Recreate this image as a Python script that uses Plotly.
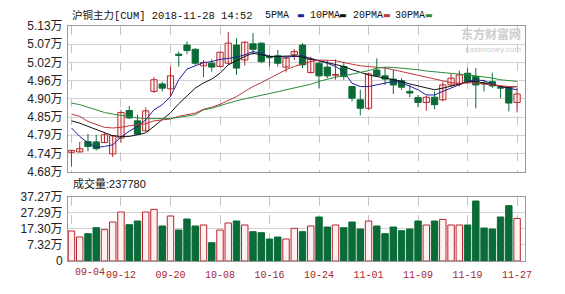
import plotly.graph_objects as go

# ---------------- data ----------------
dates = ["09-04", "09-05", "09-06", "09-07", "09-10", "09-11", "09-12", "09-13", "09-14",
         "09-17", "09-18", "09-19", "09-20", "09-21", "09-25", "09-26", "09-27", "09-28",
         "10-08", "10-09", "10-10", "10-11", "10-12", "10-15", "10-16", "10-17", "10-18",
         "10-19", "10-22", "10-23", "10-24", "10-25", "10-26", "10-29", "10-30", "10-31",
         "11-01", "11-02", "11-05", "11-06", "11-07", "11-08", "11-09", "11-12", "11-13",
         "11-14", "11-15", "11-16", "11-19", "11-20", "11-21", "11-22", "11-23", "11-26",
         "11-27"]

open_ = [47400, 47410, 47730, 47720, 47700, 47350, 47840, 48690, 48370, 48060,
         49280, 49510, 49360, 50430, 50710, 50580, 50070, 50150, 50050, 50150,
         50710, 50250, 50750, 50770, 50360, 50380, 50030, 50410, 50710, 49860,
         50150, 50030, 49780, 50050, 49430, 49020, 48760, 49940, 49760, 49660,
         49610, 49280, 49090, 48940, 49100, 49020, 49480, 49510, 49840, 49740,
         49540, 49580, 49400, 49380, 48940]
high = [47470, 47720, 47970, 47940, 47990, 47940, 48710, 48830, 48560, 48790,
        49720, 49580, 50050, 50510, 50820, 50610, 50250, 50270, 50500, 51120,
        50920, 50820, 51080, 50790, 50430, 50560, 50340, 50590, 50770, 50350,
        50200, 50250, 50270, 50200, 49440, 49330, 49860, 50300, 50020, 49940,
        49690, 49480, 49170, 49140, 49280, 49580, 49820, 49920, 50000, 50000,
        49640, 49860, 49430, 49430, 49380]
low = [46960, 47400, 47430, 47460, 47690, 47250, 47700, 48430, 47940, 48040,
       49230, 49280, 49120, 50050, 50430, 50100, 49720, 49890, 50030, 50100,
       49790, 50080, 50410, 50150, 50050, 50050, 49870, 50250, 50000, 49840,
       49380, 49690, 49640, 49640, 48970, 48540, 48710, 49740, 49480, 49200,
       49330, 49100, 48790, 48690, 48730, 48970, 49430, 49430, 49530, 48760,
       49280, 49380, 49070, 48660, 48630]
close = [47460, 47510, 47580, 47510, 47940, 47910, 48630, 48460, 47960, 48680,
         49640, 49380, 49760, 50390, 50540, 50150, 50170, 50030, 50490, 50770,
         50000, 50800, 50580, 50200, 50320, 50150, 50310, 50510, 50100, 50270,
         49760, 49760, 49800, 49740, 49070, 48760, 49820, 49760, 49660, 49480,
         49410, 49230, 48940, 49100, 48870, 49480, 49690, 49790, 49580, 49480,
         49510, 49450, 49380, 48920, 49200]

ma5 = [48150, 47890, 47690, 47550, 47580, 47630, 47870, 48050, 48200, 48400,
       48710, 48870, 49120, 49640, 49970, 50070, 50170, 50200, 50270, 50300,
       50340, 50410, 50510, 50460, 50360, 50360, 50340, 50360, 50380, 50300,
       50230, 50150, 50050, 49890, 49530, 49430, 49430, 49480, 49550, 49590,
       49550, 49450, 49330, 49170, 49170, 49280, 49380, 49480, 49590, 49640,
       49610, 49510, 49430, 49380, 49330]
ma10 = [48370, 48300, 48200, 48100, 47990, 47910, 47890, 47890, 47940, 48000,
        48200, 48400, 48620, 48900, 49150, 49380, 49540, 49660, 49840, 50100,
        50230, 50360, 50460, 50410, 50360, 50360, 50380, 50380, 50340, 50270,
        50230, 50170, 50120, 50050, 49950, 49860, 49790, 49740, 49690, 49640,
        49590, 49510, 49450, 49380, 49330, 49380, 49450, 49510, 49570, 49590,
        49530, 49480, 49430, 49400, 49430]
ma20 = [48580, 48510, 48350, 48250, 48170, 48150, 48170, 48220, 48250, 48280,
        48370, 48400, 48430, 48510, 48560, 48610, 48730, 48790, 48880, 48990,
        49120, 49280, 49430, 49550, 49690, 49820, 49950, 50050, 50130, 50200,
        50250, 50250, 50230, 50170, 50120, 50070, 50050, 50030, 50000, 49950,
        49890, 49840, 49790, 49720, 49660, 49610, 49550, 49530, 49550, 49550,
        49510, 49480, 49450, 49430, 49430]
ma30 = [48920, 48870, 48790, 48710, 48630, 48580, 48540, 48480, 48460, 48440,
        48440, 48430, 48440, 48480, 48510, 48560, 48710, 48760, 48840, 48920,
        48990, 49050, 49100, 49150, 49210, 49270, 49330, 49380, 49430, 49500,
        49590, 49660, 49720, 49760, 49810, 49860, 49920, 50000, 50030, 50020,
        50000, 49970, 49950, 49910, 49890, 49860, 49840, 49820, 49790, 49760,
        49730, 49690, 49640, 49610, 49590]

# volume in 万手
volume = [15.97, 12.24, 14.31, 18.04, 16.80, 21.56, 27.77, 19.90, 22.18, 27.77,
          29.42, 19.07, 25.28, 16.59, 23.42, 19.07, 19.70, 8.72, 16.59, 20.94,
          22.18, 19.70, 15.56, 14.93, 11.00, 12.24, 11.00, 17.63, 15.56, 19.07,
          24.66, 18.45, 19.70, 18.04, 21.56, 17.21, 22.18, 19.07, 14.31, 18.45,
          16.18, 17.21, 22.18, 19.70, 22.18, 23.21, 19.70, 19.70, 19.70, 34.60,
          17.83, 17.21, 24.66, 31.70, 23.778]

price_ticks = [46800, 47362.5, 47925, 48487.5, 49050, 49612.5, 50175, 50737.5, 51300]
price_tick_text = ["4.68万", "4.74万", "4.79万", "4.85万", "4.90万", "4.96万",
                   "5.02万", "5.07万", "5.13万"]
vol_ticks = [-2.66, 7.32, 17.30, 27.29, 37.27]
vol_tick_text = ["0", "7.32万", "17.30万", "27.29万", "37.27万"]
x_tick_dates = dates[::6]

title_text = "沪铜主力[CUM] 2018-11-28 14:52"
vol_title = "成交量:237780"
ma_names = ["5PMA", "10PMA", "20PMA", "30PMA"]

# ---------------- styles ----------------
RED = "#b3262c"
RED_FILL = "#fff1f1"
GREEN = "#0b6b38"
MA_COLORS = ["#1f1f9a", "#111111", "#c0363a", "#2e8b3a"]
GRID = "#d2d2d2"
BORDER = "#9a9a9a"
TICK_FONT = dict(family="Liberation Sans, Noto Sans CJK SC", size=12, color="#222")

up = [c >= o for o, c in zip(open_, close)]

fig = go.Figure()

# wicks
for flag, col in [(True, RED), (False, GREEN)]:
    wx, wy = [], []
    for d, h, l, u in zip(dates, high, low, up):
        if u == flag:
            wx += [d, d, None]
            wy += [l, h, None]
    fig.add_trace(go.Scatter(x=wx, y=wy, mode="lines", line=dict(color=col, width=1),
                             hoverinfo="skip", showlegend=False, xaxis="x", yaxis="y"))

# candle bodies
for flag, col, fill in [(True, RED, RED_FILL), (False, GREEN, GREEN)]:
    bx = [d for d, u in zip(dates, up) if u == flag]
    bb = [min(o, c) for o, c, u in zip(open_, close, up) if u == flag]
    bh = [max(abs(c - o), 8) for o, c, u in zip(open_, close, up) if u == flag]
    fig.add_trace(go.Bar(x=bx, y=bh, base=bb, width=0.76,
                         marker=dict(color=fill, line=dict(color=col, width=1)),
                         showlegend=False, xaxis="x", yaxis="y"))

# moving averages
for ma, col in zip([ma5, ma10, ma20, ma30], MA_COLORS):
    fig.add_trace(go.Scatter(x=dates, y=ma, mode="lines", line=dict(color=col, width=1),
                             showlegend=False, xaxis="x", yaxis="y"))

# volume bars (drawn from the bottom of the panel)
vmin = vol_ticks[0]
for flag, col, fill in [(True, RED, RED_FILL), (False, GREEN, GREEN)]:
    vx = [d for d, u in zip(dates, up) if u == flag]
    vy = [v - vmin for v, u in zip(volume, up) if u == flag]
    fig.add_trace(go.Bar(x=vx, y=vy, base=vmin, width=0.78,
                         marker=dict(color=fill, line=dict(color=col, width=1)),
                         showlegend=False, xaxis="x2", yaxis="y2"))

xr = [-0.42, 54.96]
common_x = dict(type="category", categoryorder="array", categoryarray=dates, range=xr,
                tickvals=x_tick_dates, showgrid=True, griddash="dash", gridcolor="#c4c4c4",
                gridwidth=1, showline=True, linecolor=BORDER, mirror=True, zeroline=False,
                ticks="", fixedrange=True)

fig.update_layout(
    width=565, height=294,
    margin=dict(l=68, r=40, t=26, b=33),
    paper_bgcolor="white", plot_bgcolor="white",
    barmode="overlay", showlegend=False,
    xaxis=dict(**common_x, domain=[0, 1], anchor="y", showticklabels=False),
    xaxis2=dict(**common_x, domain=[0, 1], anchor="y2", showticklabels=True,
                ticktext=[""] + x_tick_dates[1:],
                tickfont=dict(family="Liberation Mono", size=10, color="#a8282c"),
                ticklabelstandoff=4),
    yaxis=dict(domain=[0.38, 1], range=[price_ticks[0], price_ticks[-1]], tickvals=price_ticks,
               ticktext=price_tick_text, showgrid=True, gridcolor=GRID, showline=True,
               linecolor=BORDER, mirror=True, zeroline=False, ticks="", tickfont=TICK_FONT,
               ticklabelstandoff=2),
    yaxis2=dict(domain=[0, 0.2736], range=[vol_ticks[0], vol_ticks[-1]], tickvals=vol_ticks,
                ticktext=vol_tick_text, showgrid=True, gridcolor=GRID, showline=True,
                linecolor=BORDER, mirror=True, zeroline=False, ticks="", tickfont=TICK_FONT,
                ticklabelstandoff=2),
)

W, H, L, B = 457.0, 235.0, 68.0, 33.0


def px(xp):
    return (xp - L) / W


def py(yp):
    return (294 - B - yp) / H


ann = []
ann.append(dict(text=title_text, x=px(70), y=py(15), xref="paper", yref="paper",
                xanchor="left", yanchor="middle", showarrow=False,
                font=dict(family="Liberation Mono, Noto Sans CJK SC", size=10.5, color="#111")))
name_x = [263, 308, 350.5, 393]
sq_x = [300.5, 343, 386.5, 429]
for n, nx, sx, col in zip(ma_names, name_x, sq_x, MA_COLORS):
    ann.append(dict(text=n, x=px(nx), y=py(15), xref="paper", yref="paper", xanchor="left",
                    yanchor="middle", showarrow=False,
                    font=dict(family="Liberation Mono", size=10, color="#111")))
    ann.append(dict(text="▬", x=px(sx), y=py(15.5), xref="paper", yref="paper",
                    xanchor="center", yanchor="middle", showarrow=False,
                    font=dict(family="DejaVu Sans", size=8, color=col)))
ann.append(dict(text=vol_title, x=px(71), y=py(183.5), xref="paper", yref="paper",
                xanchor="left", yanchor="middle", showarrow=False,
                font=dict(family="Liberation Sans, Noto Sans CJK SC", size=11, color="#111")))
ann.append(dict(text=x_tick_dates[0], x=px(72.5), y=py(272.5), xref="paper", yref="paper",
                xanchor="left", yanchor="middle", showarrow=False,
                font=dict(family="Liberation Mono", size=10, color="#a8282c")))
# watermark
ann.append(dict(text="<b>东方财富网</b>", x=px(523), y=py(33), xref="paper", yref="paper",
                xanchor="right", yanchor="middle", showarrow=False,
                font=dict(family="Noto Sans CJK SC", size=12, color="#cdcdcd")))
ann.append(dict(text="eastmoney.com", x=px(523), y=py(49), xref="paper", yref="paper",
                xanchor="right", yanchor="middle", showarrow=False,
                font=dict(family="Liberation Sans", size=8, color="#cdcdcd")))
fig.update_layout(annotations=ann)

fig.write_html("out.html")
